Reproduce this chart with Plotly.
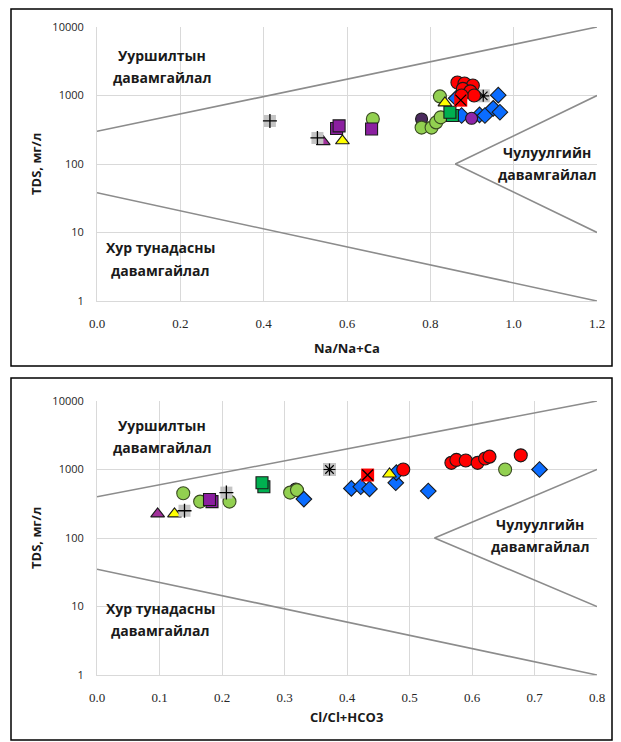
import plotly.graph_objects as go

# ---------------- DATA ----------------
# Top panel: Na/(Na+Ca) vs TDS
top_red_circle_x = [0.865, 0.882, 0.902, 0.878, 0.896, 0.905, 0.875]
top_red_circle_y = [1550, 1500, 1400, 1250, 1150, 1000, 1000]
top_blue_diamond_x = [0.862, 0.875, 0.918, 0.931, 0.951, 0.967, 0.963]
top_blue_diamond_y = [910, 510, 520, 510, 650, 570, 1010]
top_green_circle_x = [0.662, 0.779, 0.803, 0.814, 0.825, 0.823]
top_green_circle_y = [455, 340, 340, 405, 480, 970]
top_green_square_x = [0.853, 0.847]
top_green_square_y = [510, 570]
top_purple_square_x = [0.575, 0.581, 0.659]
top_purple_square_y = [330, 360, 325]
top_purple_triangle_x = [0.543]
top_purple_triangle_y = [212]
top_yellow_triangle_x = [0.589, 0.835]
top_yellow_triangle_y = [218, 780]
top_gray_plus_x = [0.415, 0.529]
top_gray_plus_y = [425, 240]
top_gray_star_x = [0.927]
top_gray_star_y = [990]
top_red_x_x = [0.873]
top_red_x_y = [855]
top_dark_circle_x = [0.779]
top_dark_circle_y = [455]
top_purple_circle_x = [0.899]
top_purple_circle_y = [465]

# Bottom panel: Cl/(Cl+HCO3) vs TDS
bot_red_circle_x = [0.49, 0.567, 0.575, 0.59, 0.609, 0.621, 0.628, 0.678]
bot_red_circle_y = [1000, 1250, 1380, 1350, 1250, 1450, 1540, 1610]
bot_blue_diamond_x = [0.331, 0.407, 0.422, 0.436, 0.478, 0.479, 0.53, 0.708]
bot_blue_diamond_y = [370, 530, 560, 520, 640, 900, 485, 1000]
bot_green_circle_x = [0.138, 0.165, 0.212, 0.309, 0.32, 0.653]
bot_green_circle_y = [450, 340, 340, 460, 500, 1000]
bot_green_square_x = [0.267, 0.264]
bot_green_square_y = [560, 640]
bot_purple_square_x = [0.184, 0.18]
bot_purple_square_y = [340, 365]
bot_purple_triangle_x = [0.097]
bot_purple_triangle_y = [225]
bot_yellow_triangle_x = [0.124, 0.468]
bot_yellow_triangle_y = [225, 860]
bot_gray_plus_x = [0.14, 0.207]
bot_gray_plus_y = [250, 460]
bot_gray_star_x = [0.372]
bot_gray_star_y = [1000]
bot_red_x_x = [0.433]
bot_red_x_y = [830]
bot_dark_circle_x = [0.318]
bot_dark_circle_y = [520]

# Gibbs boundary lines
top_upper_x, top_upper_y = [0, 1.2], [300, 10000]
top_lower_x, top_lower_y = [0, 1.2], [38, 1]
top_inner_x, top_inner_y = [1.2, 0.86, 1.2], [1000, 100, 10]
bot_upper_x, bot_upper_y = [0, 0.8], [400, 10000]
bot_lower_x, bot_lower_y = [0, 0.8], [35, 1]
bot_inner_x, bot_inner_y = [0.8, 0.54, 0.8], [1000, 100, 10]

y_tick_vals = [1, 10, 100, 1000, 10000]
y_tick_text = ["1", "10", "100", "1000", "10000"]
top_x_ticks = [0.0, 0.2, 0.4, 0.6, 0.8, 1.0, 1.2]
bot_x_ticks = [0.0, 0.1, 0.2, 0.3, 0.4, 0.5, 0.6, 0.7, 0.8]

# ---------------- FIGURE ----------------
OFF = 8  # page body margin in the browser
W, H = 621 - OFF, 742 - OFF
fig = go.Figure()

LINE = dict(color="#8c8c8c", width=1.6)


def add_lines(xa, ya, sets):
    for xs, ys in sets:
        fig.add_trace(go.Scatter(x=xs, y=ys, mode="lines", line=LINE,
                                 xaxis=xa, yaxis=ya, hoverinfo="skip"))


def mk(xs, ys, xa, ya, symbol, color, size=12, lcolor="#1a1a1a", lw=1.1):
    fig.add_trace(go.Scatter(x=xs, y=ys, mode="markers", xaxis=xa, yaxis=ya,
                             marker=dict(symbol=symbol, color=color, size=size,
                                         line=dict(color=lcolor, width=lw))))


def panel(xa, ya, d):
    mk(d["dark_circle"][0], d["dark_circle"][1], xa, ya, "circle", "#4b2a5e", size=12)
    mk(d["green_circle"][0], d["green_circle"][1], xa, ya, "circle", "#92D050", size=13, lcolor="#3a4a22")
    mk(d["purple_square"][0], d["purple_square"][1], xa, ya, "square", "#8B1FA0", size=12)
    mk(d["purple_triangle"][0], d["purple_triangle"][1], xa, ya, "triangle-up", "#A0309A", size=12)
    mk(d["blue_diamond"][0], d["blue_diamond"][1], xa, ya, "diamond", "#0A6CFF", size=12)
    mk(d["green_square"][0], d["green_square"][1], xa, ya, "square", "#00B050", size=12)
    mk(d["yellow_triangle"][0], d["yellow_triangle"][1], xa, ya, "triangle-up", "#FFFF00", size=12)
    if "purple_circle" in d:
        mk(d["purple_circle"][0], d["purple_circle"][1], xa, ya, "circle", "#8E24AA", size=12)
    # gray plus markers (gray square background + black cross)
    mk(d["gray_plus"][0], d["gray_plus"][1], xa, ya, "square", "#c4c4c4", size=12, lcolor="#c4c4c4", lw=0)
    mk(d["gray_plus"][0], d["gray_plus"][1], xa, ya, "cross-thin-open", "#000", size=10, lcolor="#333", lw=1.3)
    mk(d["gray_star"][0], d["gray_star"][1], xa, ya, "square", "#c4c4c4", size=13, lcolor="#c4c4c4", lw=0)
    mk(d["gray_star"][0], d["gray_star"][1], xa, ya, "asterisk-open", "#000", size=10, lcolor="#333", lw=1.2)
    mk(d["red_circle"][0], d["red_circle"][1], xa, ya, "circle", "#FF0000", size=13)
    mk(d["red_x"][0], d["red_x"][1], xa, ya, "square", "#FF0000", size=13, lcolor="#FF0000", lw=0)
    mk(d["red_x"][0], d["red_x"][1], xa, ya, "x-thin-open", "#000", size=11, lcolor="#333", lw=1.3)


add_lines("x", "y", [(top_upper_x, top_upper_y), (top_lower_x, top_lower_y), (top_inner_x, top_inner_y)])
add_lines("x2", "y2", [(bot_upper_x, bot_upper_y), (bot_lower_x, bot_lower_y), (bot_inner_x, bot_inner_y)])

panel("x", "y", dict(
    red_circle=(top_red_circle_x, top_red_circle_y),
    blue_diamond=(top_blue_diamond_x, top_blue_diamond_y),
    green_circle=(top_green_circle_x, top_green_circle_y),
    green_square=(top_green_square_x, top_green_square_y),
    purple_square=(top_purple_square_x, top_purple_square_y),
    purple_triangle=(top_purple_triangle_x, top_purple_triangle_y),
    yellow_triangle=(top_yellow_triangle_x, top_yellow_triangle_y),
    gray_plus=(top_gray_plus_x, top_gray_plus_y),
    gray_star=(top_gray_star_x, top_gray_star_y),
    red_x=(top_red_x_x, top_red_x_y),
    dark_circle=(top_dark_circle_x, top_dark_circle_y),
    purple_circle=(top_purple_circle_x, top_purple_circle_y),
))
panel("x2", "y2", dict(
    red_circle=(bot_red_circle_x, bot_red_circle_y),
    blue_diamond=(bot_blue_diamond_x, bot_blue_diamond_y),
    green_circle=(bot_green_circle_x, bot_green_circle_y),
    green_square=(bot_green_square_x, bot_green_square_y),
    purple_square=(bot_purple_square_x, bot_purple_square_y),
    purple_triangle=(bot_purple_triangle_x, bot_purple_triangle_y),
    yellow_triangle=(bot_yellow_triangle_x, bot_yellow_triangle_y),
    gray_plus=(bot_gray_plus_x, bot_gray_plus_y),
    gray_star=(bot_gray_star_x, bot_gray_star_y),
    red_x=(bot_red_x_x, bot_red_x_y),
    dark_circle=(bot_dark_circle_x, bot_dark_circle_y),
))


def px2x(p):
    return (p - OFF) / W


def px2y(p):
    return 1 - (p - OFF) / H


GRID = "#d9d9d9"
XFONT = dict(family="Liberation Serif", size=13, color="#262626")
YFONT = dict(family="Open Sans", size=11, color="#262626")
xdom = [px2x(97), px2x(597)]

common_x = dict(showgrid=True, gridcolor=GRID, gridwidth=1, zeroline=False,
                showline=True, linecolor=GRID, linewidth=1, ticks="",
                tickfont=XFONT, tickformat=".1f", domain=xdom,
                automargin=False, ticklabelstandoff=10)
common_y = dict(type="log", range=[0, 4], tickvals=y_tick_vals, ticktext=y_tick_text,
                showgrid=True, gridcolor=GRID, gridwidth=1, zeroline=False,
                showline=True, linecolor=GRID, linewidth=1, ticks="",
                tickfont=YFONT, automargin=False, ticklabelstandoff=10)

fig.update_layout(
    width=W, height=H, showlegend=False,
    margin=dict(l=0, r=0, t=0, b=0, autoexpand=False),
    paper_bgcolor="white", plot_bgcolor="white",
    xaxis=dict(common_x, range=[0, 1.2], tickvals=top_x_ticks, anchor="y"),
    yaxis=dict(common_y, domain=[px2y(301), px2y(27)], anchor="x"),
    xaxis2=dict(common_x, range=[0, 0.8], tickvals=bot_x_ticks, anchor="y2"),
    yaxis2=dict(common_y, domain=[px2y(675), px2y(401)], anchor="x2"),
)

# panel frames
for y0, y1 in [(6, 366), (378, 740)]:
    fig.add_shape(type="rect", xref="paper", yref="paper",
                  x0=px2x(11), x1=px2x(612), y0=px2y(y1), y1=px2y(max(y0, OFF + 1)),
                  line=dict(color="black", width=1.5), fillcolor="rgba(0,0,0,0)")

LBL = dict(family="Open Sans", size=14, color="#1a1a1a")


def note(text, x, y, size=14, angle=0):
    fig.add_annotation(text=text, xref="paper", yref="paper", x=px2x(x), y=px2y(y),
                       showarrow=False, font=dict(LBL, size=size), textangle=angle,
                       xanchor="center", yanchor="middle")


def region(lines, x, y0, step=22):
    for i, t in enumerate(lines):
        note("<b>%s</b>" % t, x, y0 + i * step)


# top panel labels
region(["Ууршилтын", "давамгайлал"], 162, 55)
region(["Чулуулгийн", "давамгайлал"], 547, 153)
region(["Хур тунадасны", "давамгайлал"], 160, 248)
note("<b>TDS, мг/л</b>", 36, 164, size=13, angle=-90)
note("<b>Na/Na+Ca</b>", 347, 348, size=13)

# bottom panel labels
region(["Ууршилтын", "давамгайлал"], 162, 425)
region(["Чулуулгийн", "давамгайлал"], 540, 524)
region(["Хур тунадасны", "давамгайлал"], 160, 608)
note("<b>TDS, мг/л</b>", 36, 538, size=13, angle=-90)
note("<b>Cl/Cl+HCO3</b>", 347, 717, size=13)

fig.write_html("out.html")
